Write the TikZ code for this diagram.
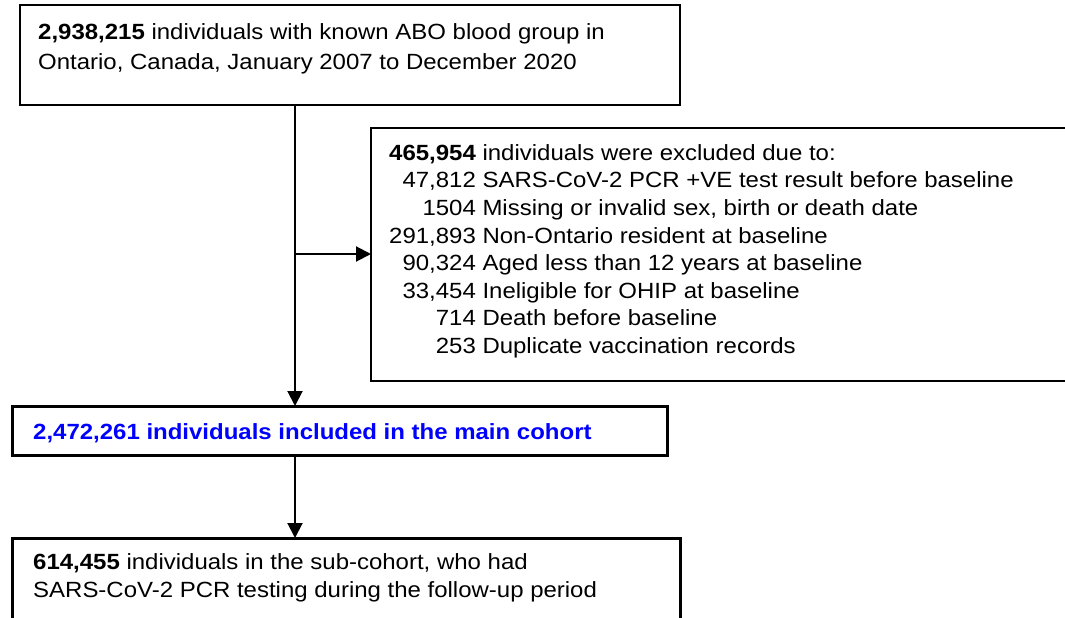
\documentclass[tikz,border=0pt]{standalone}
\usepackage{fontspec}
\setmainfont{Liberation Sans}[FakeStretch=1.09]
\usetikzlibrary{arrows.meta}

\begin{document}
\begin{tikzpicture}[x=1pt,y=-1pt,
        box/.style={draw, inner sep=0pt, outer sep=0pt, anchor=north west},
        txt/.style={inner sep=0pt, anchor=north west, align=left},
        flow/.style={line width=2pt, -{Triangle[length=15pt,width=15pt]}}]
        \useasboundingbox (0,0) rectangle (1065,618);
        \clip (0,0) rectangle (1065,618);

        % Draw the boxes
        \node[box, line width=1.5pt, minimum width=660, minimum height=100] (start) at (20,5) {};
        \node[box, line width=2pt, minimum width=720, minimum height=253] (excl) at (371,128) {};
        \node[box, line width=3pt, minimum width=655, minimum height=49] (main) at (12,406) {};
        \node[box, line width=3pt, minimum width=668, minimum height=100] (sub) at (12,538) {};

        % Add texts
        \node[txt, font=\fontsize{22}{30}\selectfont] (starttext) at (38,23)
            {\textbf{2,938,215} individuals with known ABO blood group in\\
             Ontario, Canada, January 2007 to December 2020};
        \node[txt, font=\fontsize{22}{27.6}\selectfont] (excltext) at (389,140.75) {%
            \begin{tabular}{@{}r@{ }l@{}}
            \multicolumn{2}{@{}l@{}}{\textbf{465,954} individuals were excluded due to:}\\
            47,812 & SARS-CoV-2 PCR +VE test result before baseline\\
            1504 & Missing or invalid sex, birth or death date\\
            291,893 & Non-Ontario resident at baseline\\
            90,324 & Aged less than 12 years at baseline\\
            33,454 & Ineligible for OHIP at baseline\\
            714 & Death before baseline\\
            253 & Duplicate vaccination records
            \end{tabular}};
        \node[txt, font=\fontsize{22}{28}\selectfont\bfseries, text=blue] (maintext) at (33,423)
            {2,472,261 individuals included in the main cohort};
        \node[txt, font=\fontsize{22}{28}\selectfont] (subtext) at (33,553)
            {\textbf{614,455} individuals in the sub-cohort, who had\\
             SARS-CoV-2 PCR testing during the follow-up period};

        % Add arrows
        \coordinate (stem) at (295,105);
        \coordinate (split) at (295,254);
        \draw[flow] (stem) -- (stem |- main.north);
        \draw[flow] (split) -- (split -| excl.west);
        \draw[flow] (stem |- main.south) -- (stem |- sub.north);
    \end{tikzpicture}
\end{document}
